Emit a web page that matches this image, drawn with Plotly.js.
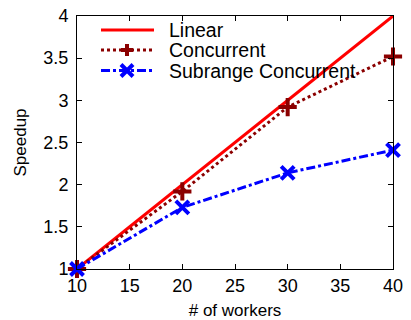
<!DOCTYPE html>
<html>
<head>
<meta charset="utf-8">
<script src="https://cdn.plot.ly/plotly-3.0.1.min.js"></script>
<style>html,body{margin:0;padding:0;background:#fff;}#chart{width:411px;height:320px;}</style>
</head>
<body>
<div id="chart"></div>
<script>
const workers = [10, 20, 30, 40];
const linear = [1, 2, 3, 4];
const concurrent = [1, 1.92, 2.92, 3.52];
const subrange = [1, 1.73, 2.14, 2.41];
const seriesNames = ['Linear', 'Concurrent', 'Subrange Concurrent'];
const xTicks = [10, 15, 20, 25, 30, 35, 40];
const yTicks = [1, 1.5, 2, 2.5, 3, 3.5, 4];

const FONT = 'Liberation Sans, Arial, sans-serif';
const W = 411, H = 320;
const M = {l: 77, r: 18, t: 16, b: 51};
const PW = W - M.l - M.r, PH = H - M.t - M.b;

const styles = [
  {color: '#ff0000', dash: 'solid', symbol: null},
  {color: '#8b0000', dash: 'dot', symbol: 'plus'},
  {color: '#0000ff', dash: 'dashdot', symbol: 'x'}
];
const seriesY = [linear, concurrent, subrange];

const traces = seriesY.map((ys, i) => {
  const s = styles[i];
  const t = {x: workers, y: ys, name: seriesNames[i], cliponaxis: false,
    mode: s.symbol ? 'lines+markers' : 'lines',
    line: {color: s.color, width: 3, dash: s.dash}};
  if (s.symbol) {
    const sym = s.symbol === 'plus' ? 'cross-thin' : 'x-thin';
    t.marker = {symbol: sym, size: 13, color: s.color, line: {color: s.color, width: 4}};
  }
  return t;
});

// custom legend (pixel helpers -> paper coords)
const px = x => (x - M.l) / PW;
const py = y => (M.t + PH - y) / PH;
const legendRows = [30, 50, 70.5];
const sampleX0 = 101, sampleX1 = 154, markX = 127, textX = 167, mh = 6;
const shapes = [], annotations = [];
seriesNames.forEach((name, i) => {
  const s = styles[i], y = legendRows[i];
  shapes.push({type: 'line', xref: 'paper', yref: 'paper', x0: px(sampleX0), x1: px(sampleX1),
    y0: py(y), y1: py(y), line: {color: s.color, width: 3, dash: s.dash}});
  if (s.symbol === 'plus') {
    shapes.push({type: 'line', xref: 'paper', yref: 'paper', x0: px(markX - mh), x1: px(markX + mh),
      y0: py(y), y1: py(y), line: {color: s.color, width: 4}});
    shapes.push({type: 'line', xref: 'paper', yref: 'paper', x0: px(markX), x1: px(markX),
      y0: py(y - mh), y1: py(y + mh), line: {color: s.color, width: 4}});
  } else if (s.symbol === 'x') {
    shapes.push({type: 'line', xref: 'paper', yref: 'paper', x0: px(markX - mh), x1: px(markX + mh),
      y0: py(y - mh), y1: py(y + mh), line: {color: s.color, width: 4}});
    shapes.push({type: 'line', xref: 'paper', yref: 'paper', x0: px(markX - mh), x1: px(markX + mh),
      y0: py(y + mh), y1: py(y - mh), line: {color: s.color, width: 4}});
  }
  annotations.push({xref: 'paper', yref: 'paper', x: px(textX), y: py(y), xanchor: 'left', yanchor: 'middle',
    text: name, showarrow: false, font: {family: FONT, size: 19.5, color: '#000'}});
});

const axisCommon = {
  showgrid: false, zeroline: false, showline: true, linecolor: '#000', linewidth: 1,
  mirror: 'allticks', ticks: 'inside', ticklen: 5, tickcolor: '#000',
  tickfont: {family: FONT, size: 18, color: '#000'}
};

const layout = {
  width: W, height: H,
  margin: M,
  paper_bgcolor: '#fff', plot_bgcolor: '#fff',
  font: {family: FONT, color: '#000'},
  showlegend: false,
  xaxis: Object.assign({}, axisCommon, {
    range: [10, 40], tickvals: xTicks, ticktext: xTicks.map(String),
    title: {text: '# of workers', font: {family: FONT, size: 17}, standoff: 11}
  }),
  yaxis: Object.assign({}, axisCommon, {
    range: [1, 4], tickvals: yTicks, ticktext: yTicks.map(String), ticklabelstandoff: 4,
    title: {text: 'Speedup', font: {family: FONT, size: 17}, standoff: 12}
  }),
  shapes: shapes,
  annotations: annotations
};

Plotly.newPlot('chart', traces, layout, {staticPlot: true, displayModeBar: false});
</script>
</body>
</html>
